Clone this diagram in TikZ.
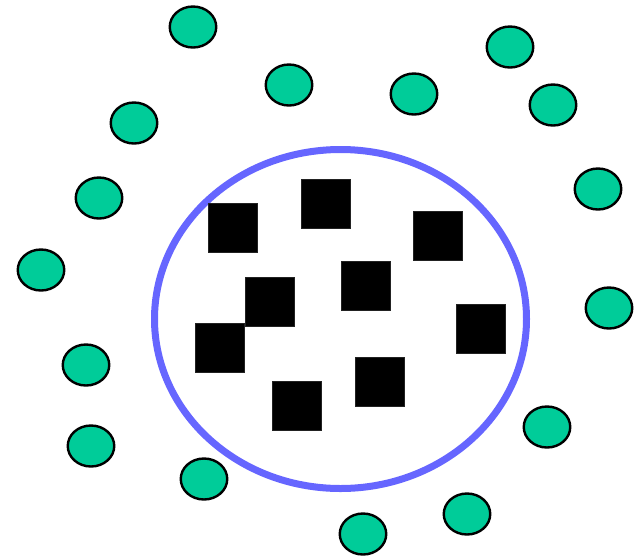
\documentclass[tikz,border=0pt]{standalone}
\usetikzlibrary{shapes.geometric}
\definecolor{dotgreen}{RGB}{0,204,153}
\definecolor{ringblue}{RGB}{102,102,255}
\definecolor{sqedge}{RGB}{34,34,34}
\tikzset{
  dot/.style={ellipse, draw=black, fill=dotgreen, line width=2.4pt, minimum width=46.5pt, minimum height=41pt, inner sep=0pt},
  sq/.style={rectangle, draw=sqedge, fill=black, line width=1pt, minimum size=49pt, inner sep=0pt},
  ring/.style={ellipse, draw=ringblue, line width=7pt, minimum width=372pt, minimum height=339pt, inner sep=0pt}
}
\begin{document}
\begin{tikzpicture}[x=1pt,y=-1pt]
\useasboundingbox (0,0) rectangle (637,558);
\node[ring] (ring) at (340.5,319) {};
% squares
\node[sq] (s1) at (233,227.5) {};
\node[sq] (s2) at (326.3,203.5) {};
\node[sq] (s3) at (438.3,235.5) {};
\node[sq] (s4) at (270.3,302.2) {};
\node[sq] (s5) at (366.3,286.2) {};
\node[sq] (s6) at (481,328.8) {};
\node[sq] (s7) at (219.7,347.5) {};
\node[sq] (s8) at (379.7,382.2) {};
\node[sq] (s9) at (297,406.2) {};
% dots
\node[dot] (d1) at (193,27) {};
\node[dot] (d2) at (289,85) {};
\node[dot] (d3) at (414,94) {};
\node[dot] (d4) at (510,47) {};
\node[dot] (d5) at (553,105) {};
\node[dot] (d6) at (134,123) {};
\node[dot] (d7) at (99,198) {};
\node[dot] (d8) at (41,270) {};
\node[dot] (d9) at (598,189) {};
\node[dot] (d10) at (609,308) {};
\node[dot] (d11) at (86,365) {};
\node[dot] (d12) at (91,446) {};
\node[dot] (d13) at (204,479) {};
\node[dot] (d14) at (363,534) {};
\node[dot] (d15) at (467,514) {};
\node[dot] (d16) at (547,427) {};
\end{tikzpicture}
\end{document}
